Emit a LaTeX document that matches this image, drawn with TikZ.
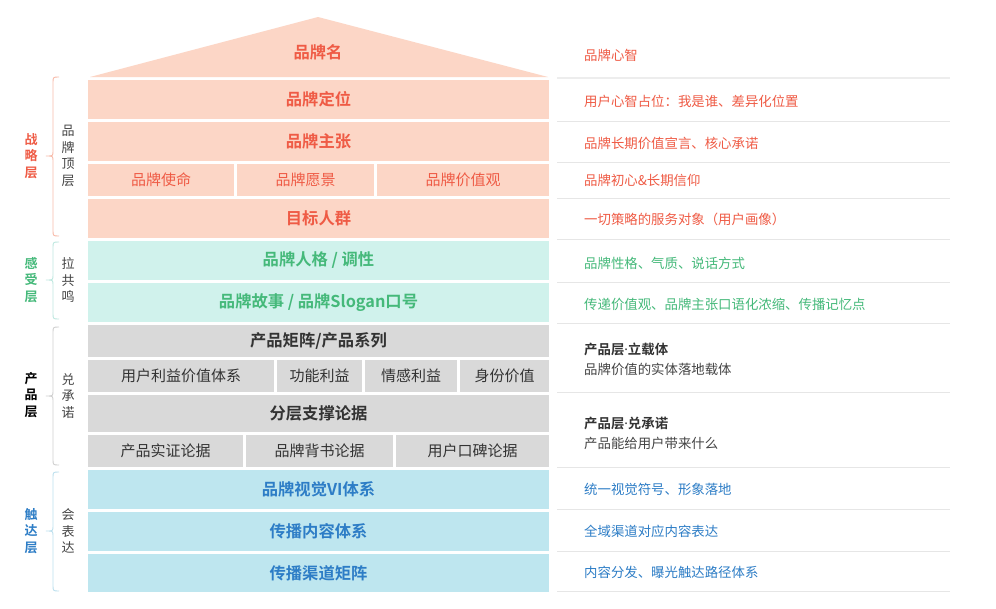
\documentclass[tikz,border=0pt]{standalone}
\usepackage{fontspec}
\setmainfont{Noto Sans CJK SC}[BoldFont={Noto Sans CJK SC Bold}]
\newfontfamily\latinfont{Noto Sans}
\definecolor{peach}{HTML}{FCD6C6}
\definecolor{redtext}{HTML}{EF5B45}
\definecolor{tealfill}{HTML}{D0F2EC}
\definecolor{greentext}{HTML}{45B97A}
\definecolor{grayfill}{HTML}{D9D9D9}
\definecolor{darktext}{HTML}{333333}
\definecolor{bluefill}{HTML}{BEE6EF}
\definecolor{bluetext}{HTML}{2D7DC6}
\definecolor{sidetext}{HTML}{444444}
\definecolor{sepcol}{HTML}{E6E6E6}
\definecolor{bracered}{HTML}{F8BBAA}
\definecolor{braceteal}{HTML}{BFE8E0}
\definecolor{bracegray}{HTML}{D0D0D0}
\definecolor{braceblue}{HTML}{BDE0EE}
\newcommand{\cellbox}[7]{%
  \pgfmathsetmacro{\mycw}{#4-#2}\pgfmathsetmacro{\mych}{#5-#3}%
  \node[#6, anchor=north west, minimum width=\mycw pt, minimum height=\mych pt] (#1) at (#2,#3) {#7};}
\newcommand{\mybrace}[5]{% name, top, mid, bottom, colour
  \coordinate (#1) at (46,#3);
  \draw[bracestyle, #5] (59,#2) .. controls (53,#2) .. (53,#2+6) -- (53,#3-5)
     .. controls (53,#3) .. (#1) .. controls (53,#3) .. (53,#3+5) -- (53,#4-6)
     .. controls (53,#4) .. (59,#4);}
\newcommand{\mydot}{{\latinfont\bfseries ·}}
\tikzset{
  cell/.style={inner sep=0pt, outer sep=0pt, draw=none},
  redcell/.style={cell, fill=peach, text=redtext},
  tealcell/.style={cell, fill=tealfill, text=greentext},
  graycell/.style={cell, fill=grayfill, text=darktext},
  bluecell/.style={cell, fill=bluefill, text=bluetext},
  big/.style={font=\fontsize{16.3}{18}\selectfont\bfseries},
  small/.style={font=\fontsize{15}{17}\selectfont},
  side/.style={anchor=west, inner sep=0pt, font=\fontsize{13.4}{16}\selectfont},
  sidebold/.style={side, font=\fontsize{13.4}{16}\selectfont\bfseries},
  sepline/.style={draw=sepcol, line width=1pt},
  vlabel/.style={align=center, inner sep=0pt, font=\fontsize{13}{16.5}\selectfont},
  bracestyle/.style={line width=0.9pt},
}
\begin{document}
\begin{tikzpicture}[x=1pt, y=-1pt]
\useasboundingbox (0,0) rectangle (996,608);
\fill[white] (0,0) rectangle (996,608);
% roof
\fill[peach] (90,77) -- (318,17) -- (548,77) -- cycle;
\node[big, text=redtext] (roof) at (318,52) {品牌名};
% strategy layer
\cellbox{dingwei}{88}{80}{549}{119}{redcell,big}{品牌定位}
\cellbox{zhuzhang}{88}{122}{549}{161}{redcell,big}{品牌主张}
\cellbox{shiming}{88}{164}{234}{196}{redcell,small}{品牌使命}
\cellbox{yuanjing}{237}{164}{374}{196}{redcell,small}{品牌愿景}
\cellbox{jiazhi}{377}{164}{549}{196}{redcell,small}{品牌价值观}
\cellbox{renqun}{88}{199}{549}{238}{redcell,big}{目标人群}
% feeling layer
\cellbox{renge}{88}{241}{549}{280}{tealcell,big}{品牌人格 / 调性}
\cellbox{gushi}{88}{283}{549}{322}{tealcell,big}{品牌故事 / 品牌Slogan口号}
% product layer
\cellbox{juzhen}{88}{325}{549}{357}{graycell,big}{产品矩阵/产品系列}
\cellbox{liyi}{88}{360}{274}{392}{graycell,small}{用户利益价值体系}
\cellbox{gongneng}{277}{360}{362}{392}{graycell,small}{功能利益}
\cellbox{qinggan}{365}{360}{457}{392}{graycell,small}{情感利益}
\cellbox{shenfen}{460}{360}{549}{392}{graycell,small}{身份价值}
\cellbox{zhicheng}{88}{395}{549}{432}{graycell,big}{分层支撑论据}
\cellbox{shizheng}{88}{435}{243}{467}{graycell,small}{产品实证论据}
\cellbox{beishu}{246}{435}{393}{467}{graycell,small}{品牌背书论据}
\cellbox{koubei}{396}{435}{549}{467}{graycell,small}{用户口碑论据}
% reach layer
\cellbox{vi}{88}{470}{549}{509}{bluecell,big}{品牌视觉VI体系}
\cellbox{neirong}{88}{512}{549}{551}{bluecell,big}{传播内容体系}
\cellbox{qudao}{88}{554}{549}{592}{bluecell,big}{传播渠道矩阵}
% right separators
\draw[sepline, line width=2pt, draw=sepcol!70] (557,78) -- (950,78);
\foreach \yy in {121,162,198,239,282,323,392,467,509,551,591}
  \draw[sepline] (557,\yy) -- (950,\yy);
% right texts
\node[side, text=redtext] (t1) at (584,55) {品牌心智};
\node[side, text=redtext] (t2) at (584,101) {用户心智占位：我是谁、差异化位置};
\node[side, text=redtext] (t3) at (584,143) {品牌长期价值宣言、核心承诺};
\node[side, text=redtext] (t4) at (584,180) {品牌初心\&长期信仰};
\node[side, text=redtext] (t5) at (584,219) {一切策略的服务对象（用户画像）};
\node[side, text=greentext] (t6) at (584,263) {品牌性格、气质、说话方式};
\node[side, text=greentext] (t7) at (584,304) {传递价值观、品牌主张口语化浓缩、传播记忆点};
\node[sidebold, text=darktext] (t8) at (584,349) {产品层\mydot 立载体};
\node[side, text=sidetext] (t9) at (584,369) {品牌价值的实体落地载体};
\node[sidebold, text=darktext] (t10) at (584,423) {产品层\mydot 兑承诺};
\node[side, text=sidetext] (t11) at (584,443) {产品能给用户带来什么};
\node[side, text=bluetext] (t12) at (584,489) {统一视觉符号、形象落地};
\node[side, text=bluetext] (t13) at (584,531) {全域渠道对应内容表达};
\node[side, text=bluetext] (t14) at (584,572) {内容分发、曝光触达路径体系};
% braces and left labels
\mybrace{b1}{77}{156}{236}{draw=bracered}
\mybrace{b2}{242}{280}{319}{draw=braceteal}
\mybrace{b3}{327}{396}{465}{draw=bracegray}
\mybrace{b4}{472}{531}{591}{draw=braceblue}
\node[vlabel, text=redtext, font=\fontsize{13}{16.5}\selectfont\bfseries] (l1) at (31,156) {战\\略\\层};
\node[vlabel, text=sidetext] (s1) at (68,156) {品\\牌\\顶\\层};
\node[vlabel, text=greentext, font=\fontsize{13}{16.5}\selectfont\bfseries] (l2) at (31,280) {感\\受\\层};
\node[vlabel, text=sidetext] (s2) at (68,280) {拉\\共\\鸣};
\node[vlabel, text=black, font=\fontsize{13}{16.5}\selectfont\bfseries] (l3) at (31,395) {产\\品\\层};
\node[vlabel, text=sidetext] (s3) at (68,396) {兑\\承\\诺};
\node[vlabel, text=bluetext, font=\fontsize{13}{16.5}\selectfont\bfseries] (l4) at (31,531) {触\\达\\层};
\node[vlabel, text=sidetext] (s4) at (68,531) {会\\表\\达};
\end{tikzpicture}
\end{document}
